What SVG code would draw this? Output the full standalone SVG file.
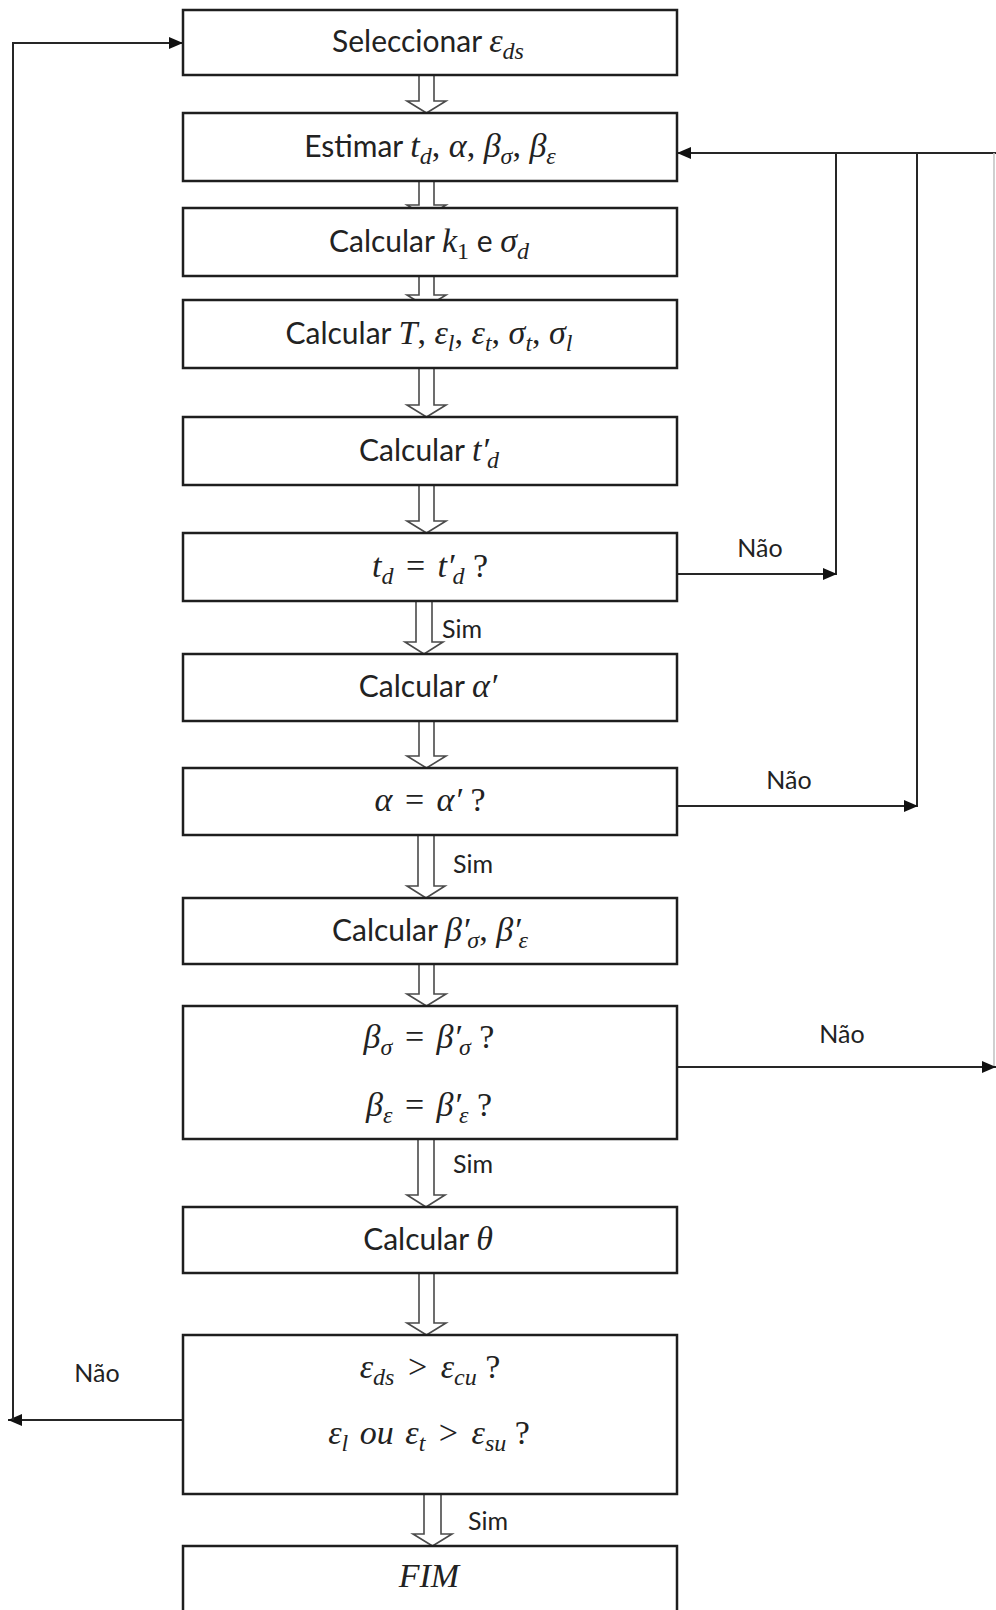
<svg xmlns="http://www.w3.org/2000/svg" width="996" height="1610" viewBox="0 0 996 1610">
<style>
.bg{fill:#fff}
.box{fill:#fff;stroke:#1e1e1e;stroke-width:2.5}
.blk{fill:#fff;stroke:#4a4a4a;stroke-width:1.6;stroke-linejoin:miter}
.ln{fill:none;stroke:#262626;stroke-width:2}
.lnf{fill:none;stroke:#c4c4c4;stroke-width:1.6}
.t{font-family:Lato,"Liberation Sans",sans-serif;font-size:30px;fill:#222}
.m{font-family:"Liberation Serif","DejaVu Serif",serif;font-style:italic;font-size:34px}
.u{font-family:"Liberation Serif","DejaVu Serif",serif;font-style:normal;font-size:34px}
.s{font-size:24px}
.lbl{font-family:Lato,"Liberation Sans",sans-serif;font-size:25px;fill:#222}
</style>
<defs>
<marker id="ah" markerUnits="userSpaceOnUse" markerWidth="14" markerHeight="12" refX="14" refY="6" orient="auto">
<path d="M0,0 L14,6 L0,12 Z" fill="#111"/>
</marker>
</defs>
<rect class="bg" x="0" y="0" width="996" height="1610"/>

<g id="connectors">
<path class="ln" d="M183,1420 H8" marker-end="url(#ah)"/>
<path class="ln" d="M13,1420 V43 H183" marker-end="url(#ah)"/>
<path class="ln" d="M996,153 H677" marker-end="url(#ah)"/>
<path class="ln" d="M836,153 V574"/>
<path class="ln" d="M677,574 H837" marker-end="url(#ah)"/>
<path class="ln" d="M917,153 V806"/>
<path class="ln" d="M677,806 H918" marker-end="url(#ah)"/>
<path class="lnf" d="M994,153 V1067"/>
<path class="ln" d="M677,1067 H996" marker-end="url(#ah)"/>
<path class="blk" d="M419,75 V101 H407 L426.5,113 L446,101 H434 V75 Z"/>
<path class="blk" d="M419,181 V205 H407 L426.5,217 L446,205 H434 V181 Z"/>
<path class="blk" d="M419,276 V295 H407 L426.5,307 L446,295 H434 V276 Z"/>
<path class="blk" d="M419,368 V405 H407 L426.5,417 L446,405 H434 V368 Z"/>
<path class="blk" d="M419,485 V521 H407 L426.5,533 L446,521 H434 V485 Z"/>
<path class="blk" d="M416,601 V642 H405 L424,654 L443,642 H432 V601 Z"/>
<path class="blk" d="M419,721 V756 H407 L426.5,768 L446,756 H434 V721 Z"/>
<path class="blk" d="M418,835 V886 H407 L426,898 L445,886 H434 V835 Z"/>
<path class="blk" d="M419,964 V994 H407 L426.5,1006 L446,994 H434 V964 Z"/>
<path class="blk" d="M418,1139 V1195 H407 L426,1207 L445,1195 H434 V1139 Z"/>
<path class="blk" d="M419,1273 V1323 H407 L426.5,1335 L446,1323 H434 V1273 Z"/>
<path class="blk" d="M424,1494 V1534 H413 L432.5,1546 L452,1534 H441 V1494 Z"/>
<text class="lbl" x="760" y="557" text-anchor="middle">Não</text>
<text class="lbl" x="789" y="789" text-anchor="middle">Não</text>
<text class="lbl" x="842" y="1043" text-anchor="middle">Não</text>
<text class="lbl" x="97" y="1382" text-anchor="middle">Não</text>
<text class="lbl" x="442" y="638">Sim</text>
<text class="lbl" x="453" y="873">Sim</text>
<text class="lbl" x="453" y="1173">Sim</text>
<text class="lbl" x="468" y="1530">Sim</text>
</g>

<g id="n1">
<rect class="box" x="183" y="10" width="494" height="65"/>
<text class="t" x="428" y="52" text-anchor="middle">Seleccionar <tspan class="m">ε</tspan><tspan class="m s" dy="7">ds</tspan></text>
</g>
<g id="n2">
<rect class="box" x="183" y="113" width="494" height="68"/>
<text class="t" x="430" y="157" text-anchor="middle">Estimar <tspan class="m">t</tspan><tspan class="m s" dy="7">d</tspan><tspan class="u" dy="-7">, </tspan><tspan class="m">α</tspan><tspan class="u">, </tspan><tspan class="m">β</tspan><tspan class="m s" dy="7">σ</tspan><tspan class="u" dy="-7">, </tspan><tspan class="m">β</tspan><tspan class="m s" dy="7">ε</tspan></text>
</g>
<g id="n3">
<rect class="box" x="183" y="208" width="494" height="68"/>
<text class="t" x="429" y="252" text-anchor="middle">Calcular <tspan class="m">k</tspan><tspan class="u s" dy="7">1</tspan><tspan dy="-7"> e </tspan><tspan class="m">σ</tspan><tspan class="m s" dy="7">d</tspan></text>
</g>
<g id="n4">
<rect class="box" x="183" y="300" width="494" height="68"/>
<text class="t" x="429" y="344" text-anchor="middle">Calcular <tspan class="m">T</tspan><tspan class="u">, </tspan><tspan class="m">ε</tspan><tspan class="m s" dy="7">l</tspan><tspan class="u" dy="-7">, </tspan><tspan class="m">ε</tspan><tspan class="m s" dy="7">t</tspan><tspan class="u" dy="-7">, </tspan><tspan class="m">σ</tspan><tspan class="m s" dy="7">t</tspan><tspan class="u" dy="-7">, </tspan><tspan class="m">σ</tspan><tspan class="m s" dy="7">l</tspan></text>
</g>
<g id="n5">
<rect class="box" x="183" y="417" width="494" height="68"/>
<text class="t" x="429" y="461" text-anchor="middle">Calcular <tspan class="m">t′</tspan><tspan class="m s" dx="-2" dy="7">d</tspan></text>
</g>
<g id="n6">
<rect class="box" x="183" y="533" width="494" height="68"/>
<text class="t" x="430" y="577" text-anchor="middle"><tspan class="m">t</tspan><tspan class="m s" dy="7">d</tspan><tspan class="u" dx="4" dy="-7"> = </tspan><tspan class="m" dx="4">t′</tspan><tspan class="m s" dx="-2" dy="7">d</tspan><tspan class="u" dy="-7"> ?</tspan></text>
</g>
<g id="n7">
<rect class="box" x="183" y="654" width="494" height="67"/>
<text class="t" x="428" y="697" text-anchor="middle">Calcular <tspan class="m">α′</tspan></text>
</g>
<g id="n8">
<rect class="box" x="183" y="768" width="494" height="67"/>
<text class="t" x="430" y="811" text-anchor="middle"><tspan class="m">α</tspan><tspan class="u" dx="4"> = </tspan><tspan class="m" dx="4">α′</tspan><tspan class="u"> ?</tspan></text>
</g>
<g id="n9">
<rect class="box" x="183" y="898" width="494" height="66"/>
<text class="t" x="430" y="941" text-anchor="middle">Calcular <tspan class="m">β′</tspan><tspan class="m s" dx="-2" dy="7">σ</tspan><tspan class="u" dy="-7">, </tspan><tspan class="m">β′</tspan><tspan class="m s" dx="-2" dy="7">ε</tspan></text>
</g>
<g id="n10">
<rect class="box" x="183" y="1006" width="494" height="133"/>
<text class="t" x="429" y="1048" text-anchor="middle"><tspan class="m">β</tspan><tspan class="m s" dy="7">σ</tspan><tspan class="u" dx="4" dy="-7"> = </tspan><tspan class="m" dx="4">β′</tspan><tspan class="m s" dx="-2" dy="7">σ</tspan><tspan class="u" dy="-7"> ?</tspan></text>
<text class="t" x="429" y="1116" text-anchor="middle"><tspan class="m">β</tspan><tspan class="m s" dy="7">ε</tspan><tspan class="u" dx="4" dy="-7"> = </tspan><tspan class="m" dx="4">β′</tspan><tspan class="m s" dx="-2" dy="7">ε</tspan><tspan class="u" dy="-7"> ?</tspan></text>
</g>
<g id="n11">
<rect class="box" x="183" y="1207" width="494" height="66"/>
<text class="t" x="428" y="1250" text-anchor="middle">Calcular <tspan class="m">θ</tspan></text>
</g>
<g id="n12">
<rect class="box" x="183" y="1335" width="494" height="159"/>
<text class="t" x="430" y="1378" text-anchor="middle"><tspan class="m">ε</tspan><tspan class="m s" dy="7">ds</tspan><tspan class="u" dx="5" dy="-7"> &gt; </tspan><tspan class="m" dx="5">ε</tspan><tspan class="m s" dy="7">cu</tspan><tspan class="u" dy="-7"> ?</tspan></text>
<text class="t" x="429" y="1444" text-anchor="middle"><tspan class="m">ε</tspan><tspan class="m s" dy="7">l</tspan><tspan class="m" dx="3" dy="-7"> ou </tspan><tspan class="m" dx="3">ε</tspan><tspan class="m s" dy="7">t</tspan><tspan class="u" dx="5" dy="-7"> &gt; </tspan><tspan class="m" dx="5">ε</tspan><tspan class="m s" dy="7">su</tspan><tspan class="u" dy="-7"> ?</tspan></text>
</g>
<g id="n13">
<rect class="box" x="183" y="1546" width="494" height="80"/>
<text class="t" x="429" y="1587" text-anchor="middle"><tspan class="m">FIM</tspan></text>
</g>
</svg>
